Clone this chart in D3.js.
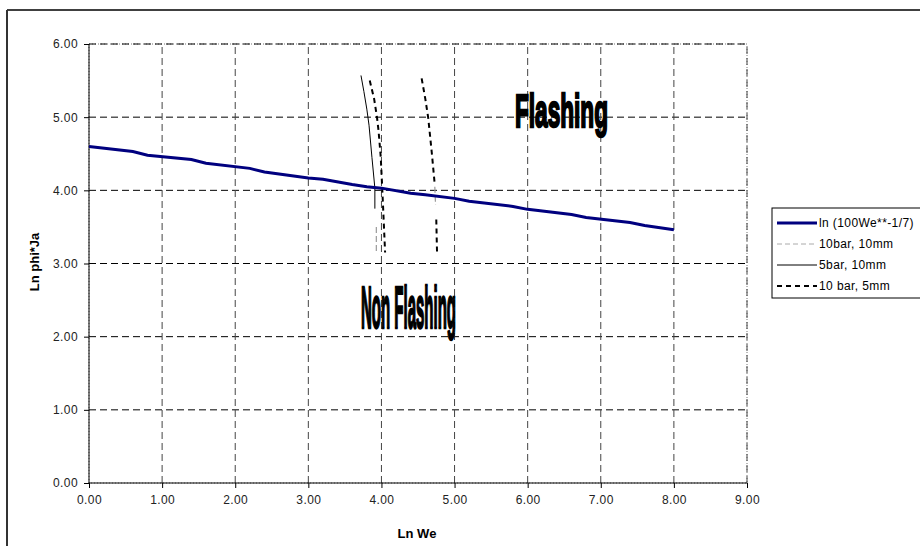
<!DOCTYPE html>
<html>
<head>
<meta charset="utf-8">
<script src="https://cdn.jsdelivr.net/npm/d3@7"></script>
<style>
  body { margin: 0; background: #fff; }
  svg text { font-family: Arial, "Liberation Sans", sans-serif; }
</style>
</head>
<body>
<svg id="chart" width="920" height="546"></svg>
<script>
// data
var xTicks = [0, 1, 2, 3, 4, 5, 6, 7, 8, 9];
var yTicks = [0, 1, 2, 3, 4, 5, 6];

var blueX = [0, 0.6, 0.8, 1.4, 1.6, 2.2, 2.4, 3.0, 3.2, 3.6, 3.8, 4.0, 4.4, 4.6, 5.0, 5.2, 5.8, 6.0, 6.6, 6.8, 7.4, 7.6, 8.0];
var blueY = [4.60, 4.53, 4.48, 4.42, 4.37, 4.30, 4.25, 4.17, 4.15, 4.08, 4.05, 4.03, 3.96, 3.94, 3.89, 3.85, 3.78, 3.74, 3.67, 3.63, 3.56, 3.52, 3.46];

// 10bar, 10mm (light grey dashed) - short visible pieces
var grey10X = [3.93, 3.93, null, 4.73, 4.74];
var grey10Y = [3.50, 3.16, null, 4.05, 3.80];

// 5bar, 10mm (thin solid)
var solid5X = [3.72, 3.76, 3.80, 3.83, 3.87, 3.91, 3.91];
var solid5Y = [5.57, 5.35, 5.11, 4.89, 4.45, 4.03, 3.75];

// 10 bar, 5mm (thick dashed) - two branches
var dash5X = [3.84, 3.90, 3.94, 3.96, 3.99, 4.01, 4.03, 4.05, null, 4.55, 4.60, 4.64, 4.69, 4.73, null, 4.75, 4.76];
var dash5Y = [5.50, 5.25, 4.99, 4.82, 4.46, 4.05, 3.60, 3.15, null, 5.53, 5.25, 4.99, 4.50, 4.07, null, 3.60, 3.16];

var legendLabels = ["ln (100We**-1/7)", "10bar, 10mm", "5bar, 10mm", "10 bar, 5mm"];

var svg = d3.select("#chart");

// outer chart frame
svg.append("line").attr("x1", 7).attr("x2", 920).attr("y1", 10).attr("y2", 10)
  .attr("stroke", "#000").attr("stroke-width", 1.5);
svg.append("line").attr("x1", 7).attr("x2", 7).attr("y1", 10).attr("y2", 546)
  .attr("stroke", "#333").attr("stroke-width", 2);

var x = d3.scaleLinear().domain([0, 9]).range([89, 747]);
var y = d3.scaleLinear().domain([0, 6]).range([483, 44]);

// plot area border (dotted)
svg.append("rect").attr("x", x(0)).attr("y", y(6))
  .attr("width", x(9) - x(0)).attr("height", y(0) - y(6))
  .attr("fill", "none").attr("stroke", "#777").attr("stroke-dasharray", "1,2");

// grid
svg.append("g").selectAll("line").data(yTicks.slice(1)).enter().append("line")
  .attr("x1", x(0)).attr("x2", x(9))
  .attr("y1", function(d) { return y(d); }).attr("y2", function(d) { return y(d); })
  .attr("stroke", "#000").attr("stroke-dasharray", "7,4");
svg.append("g").selectAll("line").data(xTicks.slice(1)).enter().append("line")
  .attr("y1", y(0)).attr("y2", y(6))
  .attr("x1", function(d) { return x(d); }).attr("x2", function(d) { return x(d); })
  .attr("stroke", "#444").attr("stroke-dasharray", "7,4");

// axes
var xAxis = svg.append("g").attr("transform", "translate(0," + y(0) + ")")
  .call(d3.axisBottom(x).tickValues(xTicks).tickFormat(d3.format(".2f")).tickSize(5).tickPadding(7));
var yAxis = svg.append("g").attr("transform", "translate(" + x(0) + ",0)")
  .call(d3.axisLeft(y).tickValues(yTicks).tickFormat(d3.format(".2f")).tickSize(5).tickPadding(6));
[xAxis, yAxis].forEach(function(a) {
  a.select(".domain").attr("stroke", "#000");
  a.selectAll(".tick line").attr("stroke", "#000");
  a.selectAll("text").attr("font-size", 12).attr("fill", "#222")
    .style("letter-spacing", "0.4px")
    .style("font-family", "Arial, 'Liberation Sans', sans-serif");
});
xAxis.select(".domain").attr("d", "M" + x(0) + ",0H" + x(9));
yAxis.select(".domain").attr("d", "M0," + y(0) + "V" + y(6));

// axis titles
svg.append("text").attr("x", 417).attr("y", 538).attr("text-anchor", "middle")
  .attr("font-size", 13).attr("font-weight", "bold").text("Ln We");
svg.append("text").attr("transform", "translate(39,262) rotate(-90)").attr("text-anchor", "middle")
  .attr("font-size", 13).attr("font-weight", "bold").text("Ln phi*Ja");

function pts(xs, ys) {
  return xs.map(function(v, i) { return [v, ys[i]]; });
}
var line = d3.line()
  .defined(function(d) { return d[0] !== null; })
  .x(function(d) { return x(d[0]); })
  .y(function(d) { return y(d[1]); });

svg.append("path").datum(pts(grey10X, grey10Y)).attr("d", line)
  .attr("fill", "none").attr("stroke", "#999").attr("stroke-width", 1.2).attr("stroke-dasharray", "6,3");
svg.append("path").datum(pts(solid5X, solid5Y)).attr("d", line)
  .attr("fill", "none").attr("stroke", "#000").attr("stroke-width", 1);
svg.append("path").datum(pts(dash5X, dash5Y)).attr("d", line)
  .attr("fill", "none").attr("stroke", "#000").attr("stroke-width", 2).attr("stroke-dasharray", "5,4");
svg.append("path").datum(pts(blueX, blueY)).attr("d", line)
  .attr("fill", "none").attr("stroke", "#00007f").attr("stroke-width", 3);

// region labels
svg.append("text").attr("x", 515).attr("y", 127)
  .attr("font-size", 47).attr("font-weight", "bold")
  .attr("textLength", 93).attr("lengthAdjust", "spacingAndGlyphs")
  .attr("stroke", "#000").attr("stroke-width", 2.5).text("Flashing");
svg.append("text").attr("x", 361).attr("y", 328)
  .attr("font-size", 60).attr("font-weight", "bold")
  .attr("textLength", 95).attr("lengthAdjust", "spacingAndGlyphs")
  .attr("stroke", "#000").attr("stroke-width", 2.5).text("Non Flashing");

// legend
var leg = svg.append("g");
leg.append("rect").attr("x", 772).attr("y", 208).attr("width", 160).attr("height", 90)
  .attr("fill", "#fff").attr("stroke", "#000");
var legStyles = [
  { c: "#00007f", w: 3, d: null },
  { c: "#aaa", w: 1, d: "5,3" },
  { c: "#000", w: 1, d: null },
  { c: "#000", w: 2, d: "5,4" }
];
legendLabels.forEach(function(lab, i) {
  var cy = 223 + i * 21;
  var s = legStyles[i];
  leg.append("line").attr("x1", 777).attr("x2", 817).attr("y1", cy).attr("y2", cy)
    .attr("stroke", s.c).attr("stroke-width", s.w).attr("stroke-dasharray", s.d);
  leg.append("text").attr("x", 819).attr("y", cy + 4).attr("font-size", 12)
    .style("letter-spacing", "0.4px").text(lab);
});
</script>
</body>
</html>
